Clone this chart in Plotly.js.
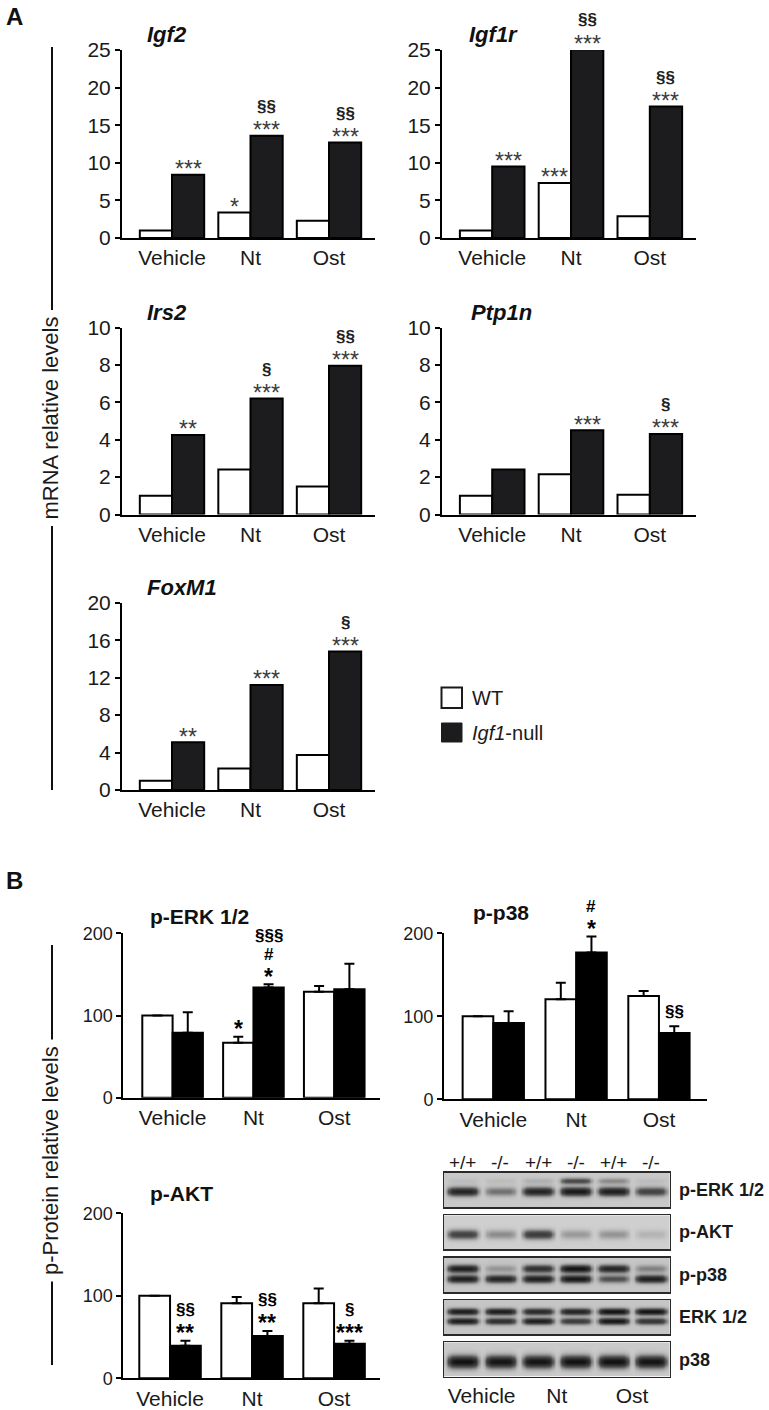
<!DOCTYPE html>
<html>
<head>
<meta charset="utf-8">
<script src="https://cdn.plot.ly/plotly-3.0.1.min.js"></script>
<style>html,body{margin:0;padding:0;background:#fff;}#chart{width:769px;height:1410px;}</style>
</head>
<body>
<div id="chart"></div>
<script>
// ---------------- DATA ----------------
const categories = ['Vehicle', 'Nt', 'Ost'];
const seriesNames = ['WT', 'Igf1-null'];

// Panel A: mRNA relative levels
const igf2WT  = [1.0, 3.4, 2.3];
const igf2KO  = [8.4, 13.6, 12.7];
const igf1rWT = [1.0, 7.3, 2.9];
const igf1rKO = [9.5, 25.1, 17.5];
const irs2WT  = [1.0, 2.4, 1.5];
const irs2KO  = [4.25, 6.2, 7.95];
const ptp1nWT = [1.0, 2.15, 1.05];
const ptp1nKO = [2.4, 4.5, 4.3];
const foxm1WT = [1.0, 2.3, 3.75];
const foxm1KO = [5.1, 11.2, 14.8];

// significance labels (bottom to top, separated by |)
const igf2SigWT  = ['', '*', ''];
const igf2SigKO  = ['***', '***|§§', '***|§§'];
const igf1rSigWT = ['', '***', ''];
const igf1rSigKO = ['***', '***|§§', '***|§§'];
const irs2SigWT  = ['', '', ''];
const irs2SigKO  = ['**', '***|§', '***|§§'];
const ptp1nSigWT = ['', '', ''];
const ptp1nSigKO = ['', '***', '***|§'];
const foxm1SigWT = ['', '', ''];
const foxm1SigKO = ['**', '***', '***|§'];

// Panel B: p-Protein relative levels (mean + SEM)
const perkWT = [100, 67, 129];
const perkWTerr = [0, 7, 7];
const perkKO = [79, 134, 132];
const perkKOerr = [25, 4, 31];
const pp38WT = [100, 120.5, 124.5];
const pp38WTerr = [0, 20, 6];
const pp38KO = [92, 177, 80];
const pp38KOerr = [14, 19, 8];
const paktWT = [100, 91, 91];
const paktWTerr = [0, 7.5, 18];
const paktKO = [39.5, 51.3, 42];
const paktKOerr = [6, 6, 3.5];

const perkSigWT = ['', '*', ''];
const perkSigKO = ['', '*|#|§§§', ''];
const pp38SigWT = ['', '', ''];
const pp38SigKO = ['', '*|#', '§§'];
const paktSigWT = ['', '', ''];
const paktSigKO = ['**|§§', '**|§§', '***|§'];

// Tick values
const ticks25 = [0, 5, 10, 15, 20, 25];
const ticks10 = [0, 2, 4, 6, 8, 10];
const ticks20 = [0, 4, 8, 12, 16, 20];
const ticks200 = [0, 100, 200];

// Western blot: lanes, rows and band intensities (0..1) per lane
const laneLabels = ['+/+', '-/-', '+/+', '-/-', '+/+', '-/-'];
const blotRowNames = ['p-ERK 1/2', 'p-AKT', 'p-p38', 'ERK 1/2', 'p38'];
const perkBandLower = [0.85, 0.35, 0.85, 0.95, 0.90, 0.60];
const perkBandUpper = [0.05, 0.05, 0.10, 0.55, 0.25, 0.05];
const paktBand      = [0.60, 0.25, 0.65, 0.20, 0.22, 0.10];
const pp38BandUpper = [0.90, 0.20, 0.75, 1.00, 0.85, 0.28];
const pp38BandLower = [0.90, 0.85, 0.90, 0.95, 0.50, 0.90];
const erkBandUpper  = [0.90, 0.90, 0.80, 0.85, 0.98, 0.98];
const erkBandLower  = [0.90, 0.75, 0.90, 0.65, 0.95, 0.70];
const p38Band       = [1.00, 0.98, 0.98, 1.00, 1.00, 0.98];

// ---------------- LAYOUT HELPERS ----------------
const W = 769, H = 1410;
const fx = px => px / W;
const fy = py => 1 - py / H;
const FONT = 'Liberation Sans, Arial, Helvetica, sans-serif';
const xs = categories.map((c, i) => i);

const charts = [
  {k: 1, wt: igf2WT, ko: igf2KO, sWT: igf2SigWT, sKO: igf2SigKO, ticks: ticks25, ymax: 25,
   L: 122, R: 375, T: 50, B: 238, title: '<b><i>Igf2</i></b>', tx: 145, ty: 35, panel: 'A', xr: [-0.637, 2.586], bw: 0.41},
  {k: 2, wt: igf1rWT, ko: igf1rKO, sWT: igf1rSigWT, sKO: igf1rSigKO, ticks: ticks25, ymax: 25,
   L: 442, R: 696, T: 50, B: 238, title: '<b><i>Igf1r</i></b>', tx: 467, ty: 35, panel: 'A', xr: [-0.637, 2.586], bw: 0.41},
  {k: 3, wt: irs2WT, ko: irs2KO, sWT: irs2SigWT, sKO: irs2SigKO, ticks: ticks10, ymax: 10,
   L: 122, R: 375, T: 327.5, B: 514.5, title: '<b><i>Irs2</i></b>', tx: 145, ty: 312, panel: 'A', xr: [-0.637, 2.586], bw: 0.41},
  {k: 4, wt: ptp1nWT, ko: ptp1nKO, sWT: ptp1nSigWT, sKO: ptp1nSigKO, ticks: ticks10, ymax: 10,
   L: 442, R: 696, T: 327.5, B: 514.5, title: '<b><i>Ptp1n</i></b>', tx: 469, ty: 312, panel: 'A', xr: [-0.637, 2.586], bw: 0.41},
  {k: 5, wt: foxm1WT, ko: foxm1KO, sWT: foxm1SigWT, sKO: foxm1SigKO, ticks: ticks20, ymax: 20,
   L: 122, R: 375, T: 602.7, B: 790, title: '<b><i>FoxM1</i></b>', tx: 145, ty: 587, panel: 'A', xr: [-0.637, 2.586], bw: 0.41},
  {k: 6, wt: perkWT, ko: perkKO, eWT: perkWTerr, eKO: perkKOerr, sWT: perkSigWT, sKO: perkSigKO, ticks: ticks200, ymax: 200,
   L: 123.3, R: 380, T: 933.3, B: 1097.7, title: '<b>p-ERK 1/2</b>', tx: 148, ty: 916, panel: 'B', xr: [-0.61, 2.566], bw: 0.375},
  {k: 7, wt: pp38WT, ko: pp38KO, eWT: pp38WTerr, eKO: pp38KOerr, sWT: pp38SigWT, sKO: pp38SigKO, ticks: ticks200, ymax: 200,
   L: 444, R: 707, T: 933.3, B: 1099.3, title: '<b>p-p38</b>', tx: 471, ty: 912, panel: 'B', xr: [-0.595, 2.58], bw: 0.37},
  {k: 8, wt: paktWT, ko: paktKO, eWT: paktWTerr, eKO: paktKOerr, sWT: paktSigWT, sKO: paktSigKO, ticks: ticks200, ymax: 200,
   L: 123.3, R: 380, T: 1213.3, B: 1378.3, title: '<b>p-AKT</b>', tx: 148, ty: 1193, panel: 'B', xr: [-0.57, 2.56], bw: 0.375}
];

const traces = [];
const layout = {
  width: W, height: H,
  margin: {l: 0, r: 0, t: 0, b: 0},
  paper_bgcolor: '#ffffff', plot_bgcolor: 'rgba(0,0,0,0)',
  showlegend: false,
  barmode: 'overlay',
  font: {family: FONT, color: '#111'},
  annotations: [], shapes: []
};

function glyphShift(g, size) {
  if (g.indexOf('*') >= 0) return -0.23 * size;
  if (g.indexOf('§') >= 0) return 0.08 * size;
  return 0;
}

charts.forEach(c => {
  const xa = 'x' + c.k, ya = 'y' + c.k;
  const key = c.k === 1 ? '' : c.k;
  const err = (arr) => arr ? {type: 'data', symmetric: false, array: arr, arrayminus: arr.map(() => 0),
                               visible: true, color: '#000', thickness: 2, width: 5} : {visible: false};
  traces.push({type: 'bar', name: seriesNames[0], x: xs, y: c.wt, width: c.bw, offset: -c.bw,
    xaxis: xa, yaxis: ya, marker: {color: '#ffffff', line: {color: '#000', width: 2}},
    error_y: err(c.eWT), cliponaxis: false, hoverinfo: 'y'});
  traces.push({type: 'bar', name: seriesNames[1], x: xs, y: c.ko, width: c.bw, offset: 0,
    xaxis: xa, yaxis: ya, marker: {color: c.panel === 'A' ? '#1c1c1e' : '#000000', line: {color: '#000', width: 2}},
    error_y: err(c.eKO), cliponaxis: false, hoverinfo: 'y'});

  layout['xaxis' + key] = {
    domain: [fx(c.L), fx(c.R)], range: c.xr, anchor: ya,
    showline: true, linecolor: '#000', linewidth: 2,
    tickvals: xs, ticktext: categories, ticks: '', ticklen: 0,
    tickfont: {size: 21, family: FONT, color: '#1a1a1a'},
    showgrid: false, zeroline: false, fixedrange: true
  };
  layout['yaxis' + key] = {
    domain: [fy(c.B), fy(c.T)], range: [0, c.ymax], anchor: xa,
    showline: true, linecolor: '#000', linewidth: 2,
    tickvals: c.ticks, ticks: 'outside', ticklen: 5, tickwidth: 2, tickcolor: '#000',
    tickfont: {size: c.panel === 'A' ? 21 : 18, family: FONT, color: '#1a1a1a'},
    showgrid: false, zeroline: false, fixedrange: true
  };
  layout.annotations.push({xref: 'paper', yref: 'paper', x: fx(c.tx), y: fy(c.ty),
    xanchor: 'left', yanchor: 'middle', text: c.title, showarrow: false,
    font: {size: c.panel === 'A' ? 22 : 21, family: FONT, color: '#111'}});

  const addSig = (labels, vals, errs, dx) => {
    labels.forEach((lab, i) => {
      if (!lab) return;
      const top = vals[i] + (errs ? errs[i] : 0);
      lab.split('|').forEach((g, lvl) => {
        const isStar = g.indexOf('*') >= 0;
        let size, bold, color;
        if (c.panel === 'A') {
          size = isStar ? 23 : 17; bold = !isStar; color = isStar ? '#3c3c3c' : '#222';
        } else {
          size = isStar ? 23 : 17; bold = true; color = '#000';
        }
        const base = c.panel === 'A' ? 11 : 13;
        layout.annotations.push({xref: xa, yref: ya + ' domain', x: i + dx, y: top / c.ymax,
          xanchor: 'center', yanchor: 'middle', showarrow: false,
          yshift: base + 17 * lvl + glyphShift(g, size),
          text: bold ? '<b>' + g + '</b>' : g,
          font: {size: size, family: FONT, color: color}});
      });
    });
  };
  addSig(c.sWT, c.wt, c.eWT, -c.bw / 2);
  addSig(c.sKO, c.ko, c.eKO, c.bw / 2);
});

// ---------------- WESTERN BLOT ----------------
const blotL = 444, blotR = 669.7;
const blotRowsPos = [[1172.7, 1207.3], [1215.3, 1249.3], [1257.7, 1292.3], [1300, 1334.3], [1342.3, 1376.7]];
const blotBg = ['#c9c9c9', '#cfcfcf', '#c6c6c6', '#c5c5c5', '#cacaca'];
const blotBands = [
  [{v: perkBandLower, pos: 0.47, th: 8.5}, {v: perkBandUpper, pos: 0.78, th: 6}],
  [{v: paktBand, pos: 0.46, th: 9}],
  [{v: pp38BandUpper, pos: 0.70, th: 7.5}, {v: pp38BandLower, pos: 0.40, th: 7.5}],
  [{v: erkBandUpper, pos: 0.68, th: 6.5}, {v: erkBandLower, pos: 0.40, th: 6.5}],
  [{v: p38Band, pos: 0.45, th: 12}]
];
const lanes = laneLabels.map((l, i) => i + 1);
const NX = 180, NY = 34;

blotRowNames.forEach((name, r) => {
  const k = 9 + r;
  const xa = 'x' + k, ya = 'y' + k;
  const [t, b] = blotRowsPos[r];
  const hpx = b - t;
  layout['xaxis' + k] = {
    domain: [fx(blotL), fx(blotR)], range: [0.5, 6.5], anchor: ya,
    showline: true, mirror: true, linecolor: '#2a2a2a', linewidth: 1.5,
    showgrid: false, zeroline: false, fixedrange: true,
    showticklabels: r === 4, ticks: '',
    tickvals: r === 4 ? [1.5, 3.5, 5.5] : [], ticktext: r === 4 ? categories : [],
    tickfont: {size: 21, family: FONT, color: '#1a1a1a'}
  };
  layout['yaxis' + k] = {
    domain: [fy(b), fy(t)], range: [0, 1], anchor: xa,
    showline: true, mirror: true, linecolor: '#2a2a2a', linewidth: 1.5,
    showgrid: false, zeroline: false, showticklabels: false, ticks: '', fixedrange: true
  };
  // density image built from the lane band intensities
  const gx = [], gy = [], z = [];
  for (let i = 0; i < NX; i++) gx.push(0.5 + (i + 0.5) * 6 / NX);
  for (let j = 0; j < NY; j++) gy.push((j + 0.5) / NY);
  for (let j = 0; j < NY; j++) {
    const row = [];
    for (let i = 0; i < NX; i++) {
      let keep = 1;
      blotBands[r].forEach(band => {
        const laneIdx = Math.min(5, Math.max(0, Math.round(gx[i]) - 1));
        const dx = gx[i] - lanes[laneIdx];
        const px = Math.exp(-Math.pow(Math.abs(dx) / 0.41, 6));
        const sig = band.th / 2 / hpx;
        const py = Math.exp(-Math.pow((gy[j] - band.pos) / sig, 2));
        keep *= 1 - band.v[laneIdx] * px * py;
      });
      row.push(1 - keep);
    }
    z.push(row);
  }
  traces.push({type: 'heatmap', x: gx, y: gy, z: z, xaxis: xa, yaxis: ya, zmin: 0, zmax: 1,
    zsmooth: 'best', showscale: false, hoverinfo: 'skip',
    colorscale: [[0, blotBg[r]], [0.45, '#555555'], [1, '#111111']]});
  layout.annotations.push({xref: 'paper', yref: 'paper', x: fx(677), y: fy((t + b) / 2),
    xanchor: 'left', yanchor: 'middle', text: '<b>' + name + '</b>', showarrow: false,
    font: {size: 18, family: FONT, color: '#1a1a1a'}});
});
laneLabels.forEach((lab, i) => {
  layout.annotations.push({xref: 'x9', yref: 'paper', x: lanes[i], y: fy(1162.7),
    xanchor: 'center', yanchor: 'middle', text: lab, showarrow: false,
    font: {size: 19, family: FONT, color: '#1a1a1a'}});
});

// ---------------- LEGEND ----------------
layout.shapes.push({type: 'rect', xref: 'paper', yref: 'paper', x0: fx(441.5), x1: fx(462), y0: fy(708), y1: fy(687.5),
  fillcolor: '#fff', line: {color: '#1a1a1a', width: 2}});
layout.shapes.push({type: 'rect', xref: 'paper', yref: 'paper', x0: fx(441.5), x1: fx(462), y0: fy(742), y1: fy(723),
  fillcolor: '#1c1c1e', line: {color: '#1c1c1e', width: 1}});
layout.annotations.push({xref: 'paper', yref: 'paper', x: fx(470), y: fy(698), xanchor: 'left', yanchor: 'middle',
  text: seriesNames[0], showarrow: false, font: {size: 20, family: FONT, color: '#1a1a1a'}});
layout.annotations.push({xref: 'paper', yref: 'paper', x: fx(470), y: fy(733), xanchor: 'left', yanchor: 'middle',
  text: '<i>Igf1</i>-null', showarrow: false, font: {size: 20, family: FONT, color: '#1a1a1a'}});

// ---------------- PANEL LABELS & SHARED AXIS TITLES ----------------
layout.annotations.push({xref: 'paper', yref: 'paper', x: fx(4), y: fy(17), xanchor: 'left', yanchor: 'middle',
  text: '<b>A</b>', showarrow: false, font: {size: 24, family: FONT, color: '#111'}});
layout.annotations.push({xref: 'paper', yref: 'paper', x: fx(4), y: fy(880), xanchor: 'left', yanchor: 'middle',
  text: '<b>B</b>', showarrow: false, font: {size: 24, family: FONT, color: '#111'}});

layout.shapes.push({type: 'line', xref: 'paper', yref: 'paper', x0: fx(52), x1: fx(52), y0: fy(47), y1: fy(790),
  line: {color: '#111', width: 2}});
layout.annotations.push({xref: 'paper', yref: 'paper', x: fx(50), y: fy(418.5), xanchor: 'center', yanchor: 'middle',
  text: 'mRNA relative levels', textangle: -90, showarrow: false, bgcolor: '#fff', borderpad: 6,
  font: {size: 22, family: FONT, color: '#1a1a1a'}});
layout.shapes.push({type: 'line', xref: 'paper', yref: 'paper', x0: fx(52), x1: fx(52), y0: fy(945), y1: fy(1365),
  line: {color: '#111', width: 2}});
layout.annotations.push({xref: 'paper', yref: 'paper', x: fx(50), y: fy(1161), xanchor: 'center', yanchor: 'middle',
  text: 'p-Protein relative levels', textangle: -90, showarrow: false, bgcolor: '#fff', borderpad: 6,
  font: {size: 22, family: FONT, color: '#1a1a1a'}});

Plotly.newPlot('chart', traces, layout, {staticPlot: true, displayModeBar: false});
</script>
</body>
</html>
